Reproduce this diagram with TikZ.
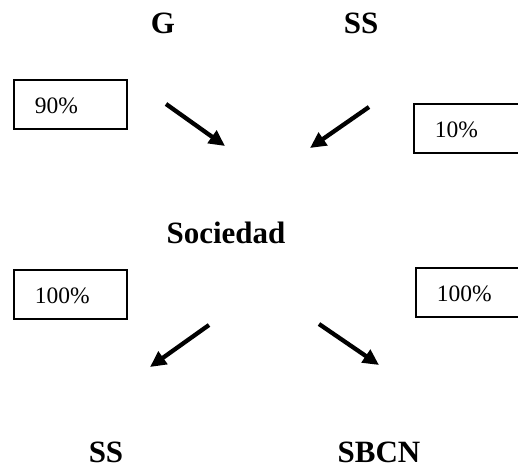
\documentclass[tikz,border=0pt]{standalone}
\usepackage{fontspec}
\setmainfont{Liberation Serif}
\usetikzlibrary{arrows.meta}
\tikzset{
  lbl/.style={font=\fontsize{31}{36}\selectfont\bfseries, anchor=base, inner sep=0pt},
  pctbox/.style={draw, line width=1.6pt, anchor=north west, minimum height=49pt,
    inner xsep=21pt, inner ysep=0pt, text height=19pt, text depth=0pt,
    align=left, font=\fontsize{23.5}{28}\selectfont},
  flow/.style={line width=4.3pt, -{Triangle[length=16pt,width=15pt]}}
}
\begin{document}
\begin{tikzpicture}[x=1pt,y=-1pt]
\useasboundingbox (0,0) rectangle (518,468);
\clip (0,0) rectangle (518,468);
\node[lbl] (g) at (163,34) {G};
\node[lbl] (sstop) at (361,34) {SS};
\node[lbl] (soc) at (226,243) {Sociedad};
\node[lbl] (ssbot) at (106,462) {SS};
\node[lbl] (sbcn) at (379,462) {SBCN};
\node[pctbox, text width=71pt] (p90) at (13,79) {90\%};
\node[pctbox, text width=80pt] (p10) at (413,103) {10\%};
\node[pctbox, text width=71pt] (p100l) at (13,269) {100\%};
\node[pctbox, text width=80pt] (p100r) at (415,267) {100\%};
\coordinate (a1s) at (166,104); \coordinate (a1e) at (225,146);
\coordinate (a2s) at (369,107); \coordinate (a2e) at (310,148);
\coordinate (a3s) at (209,325); \coordinate (a3e) at (150,367);
\coordinate (a4s) at (319,324); \coordinate (a4e) at (379,365);
\draw[flow] (a1s) -- (a1e);
\draw[flow] (a2s) -- (a2e);
\draw[flow] (a3s) -- (a3e);
\draw[flow] (a4s) -- (a4e);
\end{tikzpicture}
\end{document}
